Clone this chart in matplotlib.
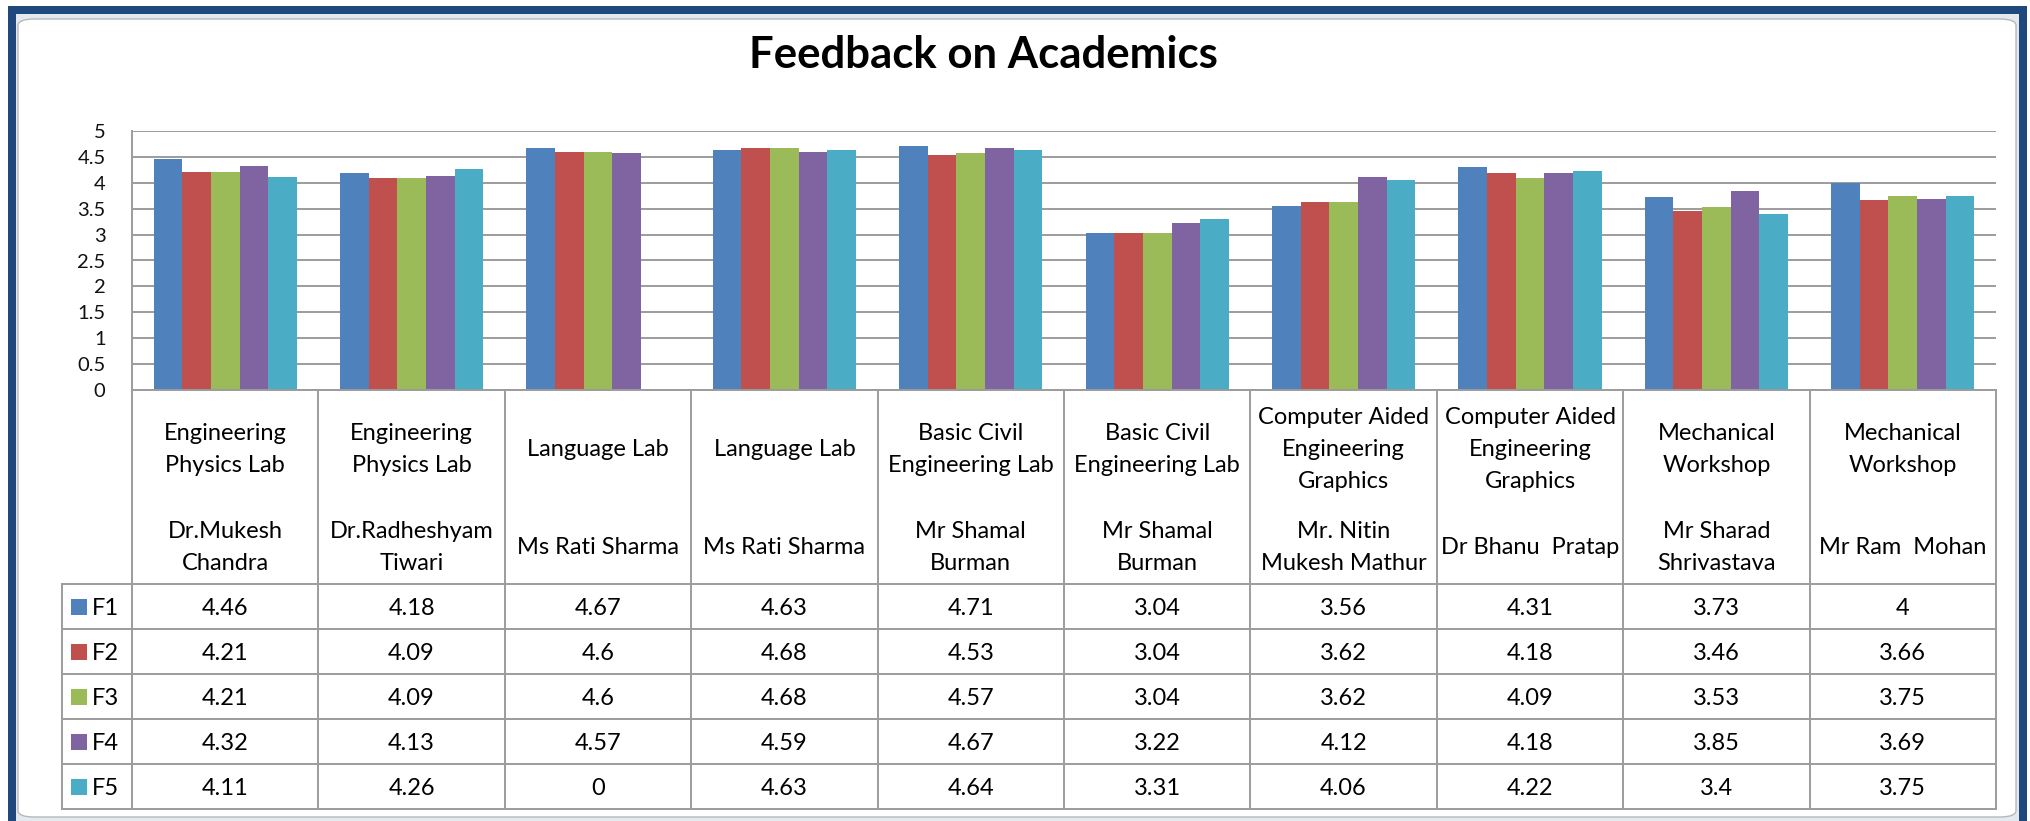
import matplotlib
matplotlib.use('Agg')
import matplotlib.pyplot as plt
from matplotlib.patches import Rectangle, FancyBboxPatch
from matplotlib.lines import Line2D
import numpy as np

# ---------------- data ----------------
courses = ["Engineering\nPhysics Lab", "Engineering\nPhysics Lab", "Language Lab", "Language Lab",
           "Basic Civil\nEngineering Lab", "Basic Civil\nEngineering Lab",
           "Computer Aided\nEngineering\nGraphics", "Computer Aided\nEngineering\nGraphics",
           "Mechanical\nWorkshop", "Mechanical\nWorkshop"]
teachers = ["Dr.Mukesh\nChandra", "Dr.Radheshyam\nTiwari", "Ms Rati Sharma", "Ms Rati Sharma",
            "Mr Shamal\nBurman", "Mr Shamal\nBurman", "Mr. Nitin\nMukesh Mathur", "Dr Bhanu  Pratap",
            "Mr Sharad\nShrivastava", "Mr Ram  Mohan"]
series_names = ["F1", "F2", "F3", "F4", "F5"]
f1 = [4.46, 4.18, 4.67, 4.63, 4.71, 3.04, 3.56, 4.31, 3.73, 4]
f2 = [4.21, 4.09, 4.6, 4.68, 4.53, 3.04, 3.62, 4.18, 3.46, 3.66]
f3 = [4.21, 4.09, 4.6, 4.68, 4.57, 3.04, 3.62, 4.09, 3.53, 3.75]
f4 = [4.32, 4.13, 4.57, 4.59, 4.67, 3.22, 4.12, 4.18, 3.85, 3.69]
f5 = [4.11, 4.26, 0, 4.63, 4.64, 3.31, 4.06, 4.22, 3.4, 3.75]
y_ticks = [0, 0.5, 1, 1.5, 2, 2.5, 3, 3.5, 4, 4.5, 5]
title = "Feedback on Academics"

series = [f1, f2, f3, f4, f5]
colors = ["#4F81BD", "#C0504D", "#9BBB59", "#8064A2", "#4BACC6"]
FONT = "Lato"
GRID = "#9C9C9C"

W, H = 2030, 821
fig = plt.figure(figsize=(W / 100, H / 100), dpi=100)
fig.patch.set_facecolor("white")


def fx(px):
    return px / W


def fy(py):
    return 1 - py / H


# ---------------- frame ----------------
fig.add_artist(Rectangle((fx(8), fy(830)), fx(2027) - fx(8), fy(6) - fy(830),
                         transform=fig.transFigure, facecolor="#1F497D", edgecolor="none", zorder=-3))
fig.add_artist(Rectangle((fx(16), fy(830)), fx(2019) - fx(16), fy(14) - fy(830),
                         transform=fig.transFigure, facecolor="#E4E9EF", edgecolor="none", zorder=-2))
fig.add_artist(FancyBboxPatch((fx(18), fy(817)), fx(2016) - fx(18), fy(19) - fy(817),
                              boxstyle="round,pad=0,rounding_size=0.008",
                              transform=fig.transFigure, facecolor="white",
                              edgecolor="#B8B8B8", linewidth=1.0, zorder=-1))

# ---------------- title ----------------
fig.text(fx(983), fy(68), title, ha="center", va="baseline", fontsize=31.5,
         fontweight="bold", family=FONT, color="black")

# ---------------- bar chart ----------------
L, R, T, B = 132, 1996, 131, 390
ax = fig.add_axes([fx(L), fy(B), fx(R) - fx(L), fy(T) - fy(B)])
ax.set_facecolor("none")
n_cat = len(f1)
x = np.arange(n_cat)
bw = 1 / 6.5
for k, (vals, c) in enumerate(zip(series, colors)):
    ax.bar(x + (k - 2) * bw, vals, width=bw, color=c, edgecolor="none", zorder=3)
ax.set_xlim(-0.5, n_cat - 0.5)
ax.set_ylim(0, 5)
ax.set_yticks(y_ticks)
ax.set_yticklabels(["%g" % t for t in y_ticks], family=FONT, fontsize=14.5, color="#111111")
ax.set_xticks([])
ax.yaxis.grid(True, color=GRID, linewidth=1.4, zorder=0)
ax.set_axisbelow(True)
ax.tick_params(axis="y", length=0, pad=19)
for s in ["top", "right", "bottom"]:
    ax.spines[s].set_visible(False)
ax.spines["left"].set_color(GRID)
ax.spines["left"].set_linewidth(1.4)

# ---------------- data table ----------------
TL, TB = 62, 809
cat_px = (R - L) / n_cat
leg_w = (L - TL) / cat_px
tax = fig.add_axes([fx(TL), fy(TB), fx(R) - fx(TL), fy(B) - fy(TB)])
tax.set_xlim(-0.5 - leg_w, n_cat - 0.5)
tax.set_ylim(TB, B)
tax.axis("off")

HDR = 584
row_edges = np.linspace(HDR, TB, len(series) + 1)
lk = dict(color=GRID, linewidth=1.4, clip_on=False, solid_capstyle="projecting")
for i in range(n_cat + 1):
    tax.add_line(Line2D([i - 0.5, i - 0.5], [B, TB], **lk))
tax.add_line(Line2D([-0.5 - leg_w, -0.5 - leg_w], [HDR, TB], **lk))
for yv in row_edges:
    tax.add_line(Line2D([-0.5 - leg_w, n_cat - 0.5], [yv, yv], **lk))
tax.add_line(Line2D([-0.5, n_cat - 0.5], [B, B], **lk))

FS = 17
LS = 32
for i in range(n_cat):
    lines = courses[i].split("\n")
    n = len(lines)
    for k, ln in enumerate(lines):
        tax.text(i, 456 + (k - (n - 1) / 2) * LS, ln, ha="center", va="baseline",
                 family=FONT, fontsize=FS, color="black")
    lines = teachers[i].split("\n")
    n = len(lines)
    for k, ln in enumerate(lines):
        tax.text(i, 553.5 + (k - (n - 1) / 2) * LS, ln, ha="center", va="baseline",
                 family=FONT, fontsize=FS, color="black")

for r, (name, vals, c) in enumerate(zip(series_names, series, colors)):
    yc = (row_edges[r] + row_edges[r + 1]) / 2
    for i, v in enumerate(vals):
        tax.text(i, yc + 8.5, "%g" % v, ha="center", va="baseline",
                 family=FONT, fontsize=FS, color="black")
    x0 = -0.5 - leg_w + (71 - TL) / cat_px
    tax.add_patch(Rectangle((x0, yc - 8), 16 / cat_px, 16, facecolor=c, edgecolor="none",
                            clip_on=False))
    tax.text(-0.5 - leg_w + (92 - TL) / cat_px, yc + 8.5, name, ha="left", va="baseline",
             family=FONT, fontsize=FS, color="black")

fig.savefig("out.png", dpi=100)
